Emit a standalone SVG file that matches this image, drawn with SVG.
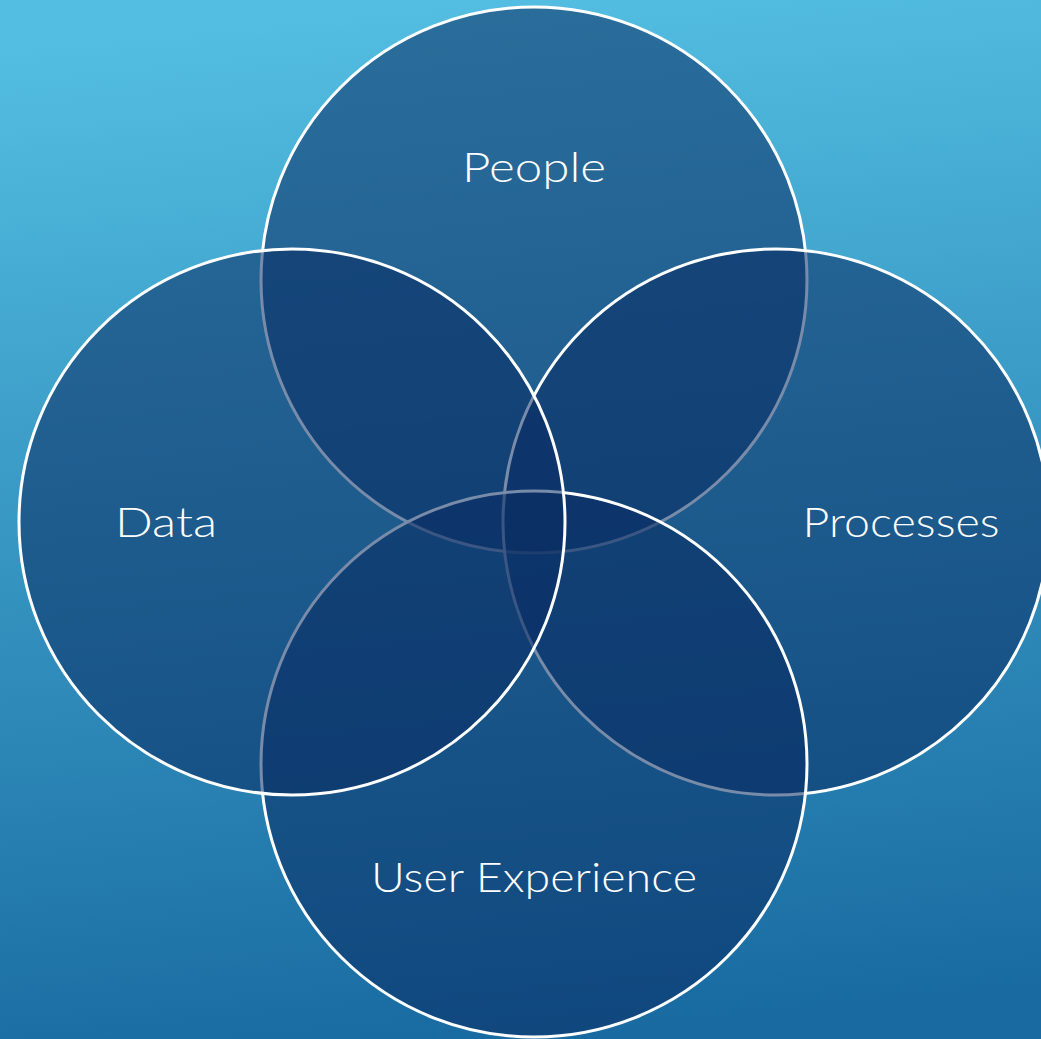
<svg xmlns="http://www.w3.org/2000/svg" width="1041" height="1039" viewBox="0 0 1041 1039">
<defs>
<linearGradient id="bg" x1="0.45" y1="0" x2="0.55" y2="1">
<stop offset="0" stop-color="#53bee1"/>
<stop offset="1" stop-color="#186aa0"/>
</linearGradient>
<style>
.c{fill:#0a2c62;fill-opacity:0.55;stroke:#ffffff;stroke-width:3}
.t{fill:#ffffff;font-family:Lato,"Noto Sans",sans-serif;font-weight:300;font-size:41px;text-anchor:middle}
</style>
</defs>
<rect width="1041" height="1039" fill="url(#bg)"/>
<g id="people"><circle class="c" cx="534" cy="280" r="273"/><text class="t" x="534" y="182" textLength="144" lengthAdjust="spacingAndGlyphs">People</text></g>
<g id="processes"><circle class="c" cx="776" cy="522" r="273"/><text class="t" x="901" y="537" textLength="197" lengthAdjust="spacingAndGlyphs">Processes</text></g>
<g id="user-experience"><circle class="c" cx="534" cy="764" r="273"/><text class="t" x="534" y="892" textLength="326" lengthAdjust="spacingAndGlyphs">User Experience</text></g>
<g id="data"><circle class="c" cx="292" cy="522" r="273"/><text class="t" x="166" y="537" textLength="102" lengthAdjust="spacingAndGlyphs">Data</text></g>
<g id="connectors"></g>
</svg>
